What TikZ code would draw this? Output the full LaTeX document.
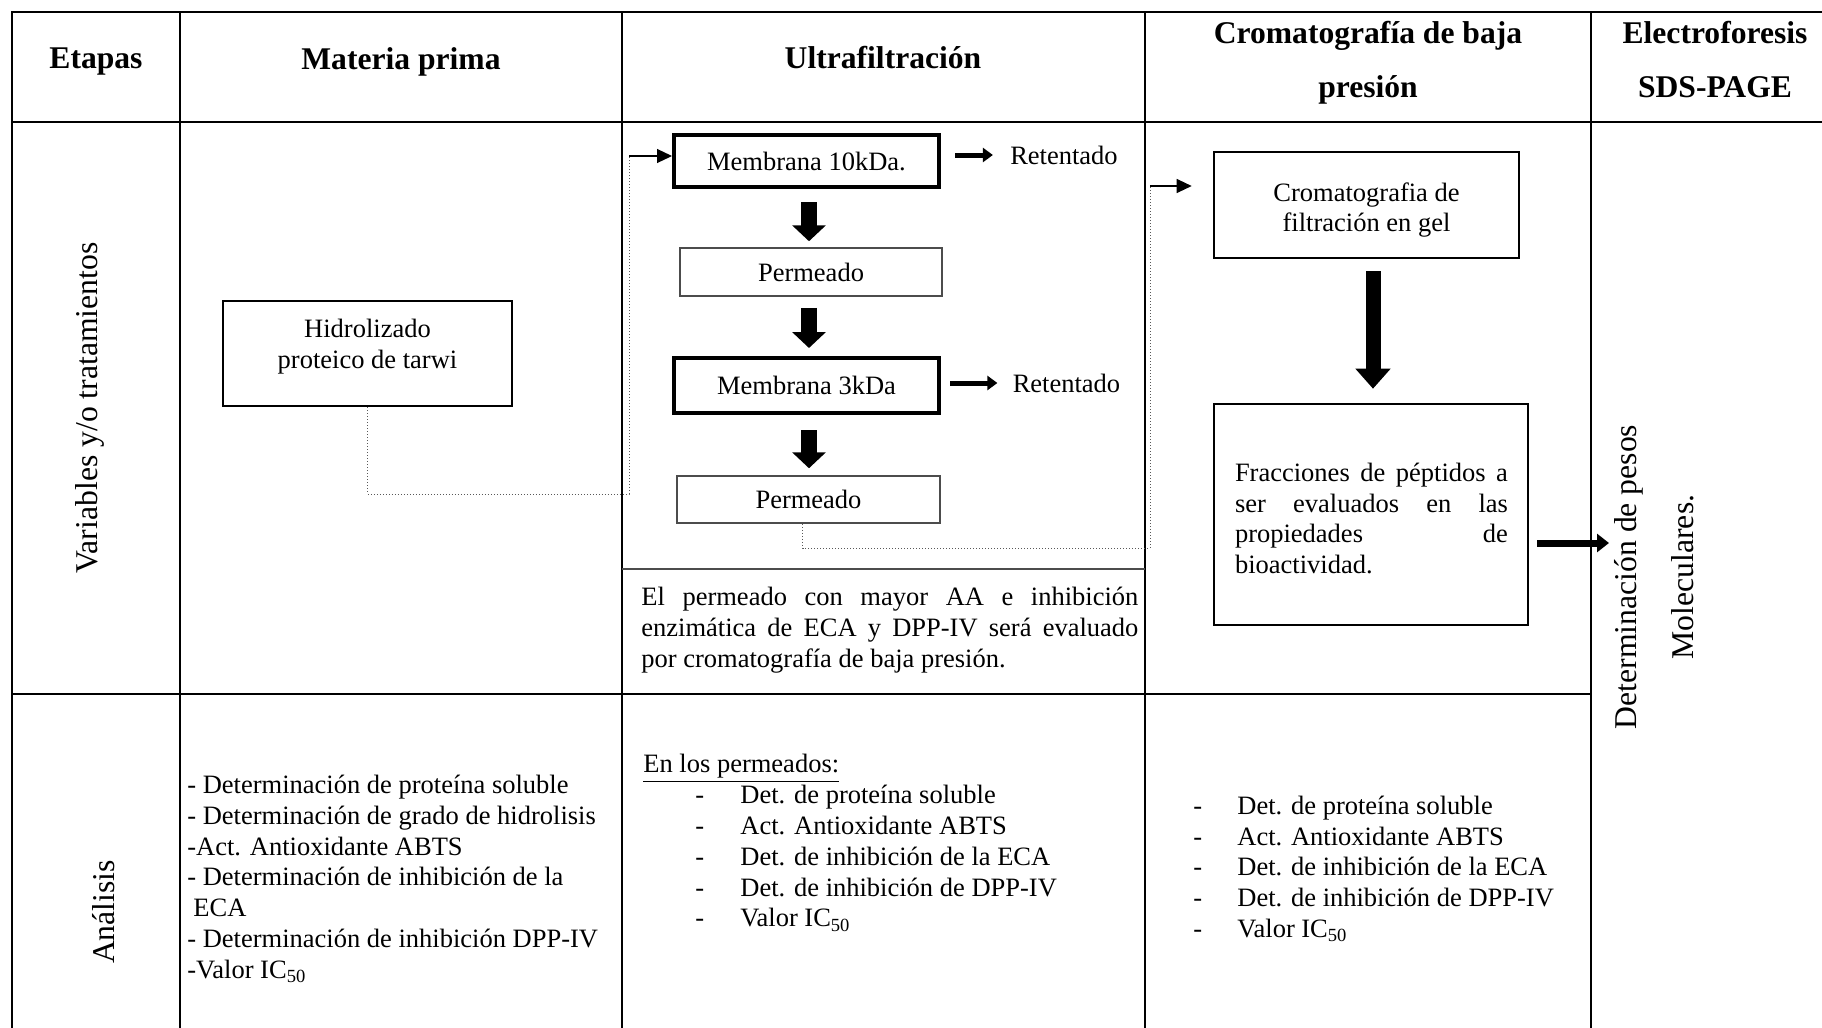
\documentclass[tikz,border=0pt]{standalone}
\usepackage{fontspec}
\setmainfont{Liberation Serif}
\usetikzlibrary{arrows.meta}
\newcommand{\dashitA}[1]{\makebox[22.5pt][l]{-}#1}
\newcommand{\dashitB}[1]{\makebox[22pt][l]{-}#1}
\begin{document}
\begin{tikzpicture}[x=0.5pt,y=-0.5pt,
  grid/.style={line width=1.3pt, line cap=rect},
  body/.style={font=\fontsize{13.25}{15.4}\selectfont, inner sep=0pt},
  head/.style={font=\bfseries\fontsize{15.8}{27}\selectfont, align=center, inner sep=0pt},
  side/.style={font=\fontsize{15.85}{28.5}\selectfont, rotate=90, align=center, inner sep=0pt},
  mbox/.style={draw, line width=2pt, body},
  pbox/.style={draw=black!70, line width=0.75pt, body},
  kbox/.style={draw, line width=1.3pt},
  fatdown/.style={line width=8pt, -{Triangle[length=8pt,width=16.5pt]}},
  bigdown/.style={line width=7.5pt, -{Triangle[length=10pt,width=17pt]}},
  retarrow/.style={line width=2.5pt, -{Triangle[length=5pt,width=7pt]}},
  medarrow/.style={line width=3.5pt, -{Triangle[length=6pt,width=9pt]}},
  dotline/.style={densely dotted, line width=0.5pt, black!65},
  thinarrow/.style={line width=0.6pt, -{Triangle[length=7.5pt,width=7pt]}},
]
\useasboundingbox (0,0) rectangle (1822,1028);

% table grid
\draw[grid] (12,12) -- (1822,12);
\draw[grid] (12,122) -- (1822,122);
\draw[grid] (12,694) -- (1591,694);
\foreach \x in {12,180,622,1145,1591} \draw[grid] (\x,12) -- (\x,1028);
\draw[line width=0.9pt, black!70] (622,569) -- (1145,569);

% headers
\node[head] (hEt) at (96,61.5) {Etapas};
\node[head] (hMat) at (401,61.5) {Materia prima};
\node[head] (hUlt) at (883,58) {Ultrafiltración};
\node[head] (hCro) at (1368,63) {Cromatografía de baja\\presión};
\node[head] (hEle) at (1715,60) {Electroforesis\\SDS-PAGE};

% side labels
\node[side] (sVar) at (90,408) {Variables y/o tratamientos};
\node[side] (sAn) at (104,912) {Análisis};
\node[side] (det) at (1654,577) {Determinación de pesos\\Moleculares.};

% materia prima
\node[draw, line width=1.3pt, minimum width=144.5pt, minimum height=52.5pt] (hid) at (367.5,353.5) {};
\node[body, align=center] (hidt) at ([yshift=3.4pt]hid.center) {Hidrolizado\\proteico de tarwi};

% ultrafiltracion
\node[mbox, minimum width=132.5pt, minimum height=26pt] (m10) at (806.5,161) {Membrana 10kDa.};
\node[pbox, minimum width=131pt, minimum height=24pt] (p1) at (811,272) {Permeado};
\node[mbox, minimum width=132.5pt, minimum height=27.5pt] (m3) at (806.5,385.5) {Membrana 3kDa};
\node[pbox, minimum width=131.5pt, minimum height=23.5pt] (p2) at (808.5,499.5) {Permeado};
\node[body] (r1) at (1064,155) {Retentado};
\node[body] (r2) at (1066.5,383) {Retentado};

\draw[fatdown] ([yshift=-6.5pt]m10.south -| 809,0) -- ([yshift=3pt]p1.north -| 809,0);
\draw[fatdown] ([yshift=-5.5pt]p1.south -| 809,0) -- ([yshift=4pt]m3.north -| 809,0);
\draw[fatdown] ([yshift=-7.5pt]m3.south -| 809,0) -- ([yshift=3.5pt]p2.north -| 809,0);
\draw[retarrow] ([xshift=7pt]m10.east |- r1) -- ([xshift=-8.5pt]r1.west);
\draw[retarrow] ([xshift=4.5pt]m3.east |- r2) -- ([xshift=-7.5pt]r2.west);

\node[body, align=left, anchor=west] (ultp) at (641,630) {\makebox[248.5pt][s]{El permeado con mayor AA e inhibición}\\\makebox[248.5pt][s]{enzimática de ECA y DPP-IV será evaluado}\\por cromatografía de baja presión.};

% cromatografia
\node[kbox, minimum width=152.5pt, minimum height=53pt] (cg) at (1366.5,205) {};
\node[body, align=center] (cgt) at ([yshift=-2.5pt]cg.center) {Cromatografia de\\filtración en gel};
\node[kbox, minimum width=157pt, minimum height=110.5pt] (fr) at (1371,514.5) {};
\node[body, align=left] (frt) at (1371.5,518.5) {\makebox[136.5pt][s]{Fracciones de péptidos a}\\\makebox[136.5pt][s]{ser evaluados en las}\\\makebox[136.5pt][s]{propiedades de}\\bioactividad.};
\draw[bigdown] ([yshift=-6pt]cg.south -| 1373,0) -- ([yshift=7pt]fr.north -| 1373,0);
\coordinate (dettip) at (1609,543);
\draw[medarrow] ([xshift=4pt]fr.east |- dettip) -- (dettip);

% dotted connectors
\coordinate (d1) at (629,494);
\coordinate (d2) at (629,156);
\draw[dotline] (hid.south) |- (d1) -- (d2);
\draw[thinarrow] (d2) -- (m10.west |- d2);
\coordinate (d3) at (1150,548);
\coordinate (d4) at (1150,186);
\draw[dotline] ([xshift=-3pt]p2.south) |- (d3) -- (d4);
\draw[thinarrow, shorten >=10.5pt] (d4) -- (cg.west |- d4);

% analysis
\node[body, align=left, anchor=west] (aMat) at (187,879) {- Determinación de proteína soluble\\- Determinación de grado de hidrolisis\\-Act. Antioxidante ABTS\\- Determinación de inhibición de la\\\hspace*{3pt}ECA\\- Determinación de inhibición DPP-IV\\-Valor IC\textsubscript{50}};
\node[body, align=left, anchor=west] (aUlt) at (643,843) {\underline{En los permeados:}\\\hspace*{26pt}\dashitA{Det. de proteína soluble}\\\hspace*{26pt}\dashitA{Act. Antioxidante ABTS}\\\hspace*{26pt}\dashitA{Det. de inhibición de la ECA}\\\hspace*{26pt}\dashitA{Det. de inhibición de DPP-IV}\\\hspace*{26pt}\dashitA{Valor IC\textsubscript{50}}};
\node[body, align=left, anchor=west] (aCro) at (1193,869) {\dashitB{Det. de proteína soluble}\\\dashitB{Act. Antioxidante ABTS}\\\dashitB{Det. de inhibición de la ECA}\\\dashitB{Det. de inhibición de DPP-IV}\\\dashitB{Valor IC\textsubscript{50}}};
\end{tikzpicture}
\end{document}
